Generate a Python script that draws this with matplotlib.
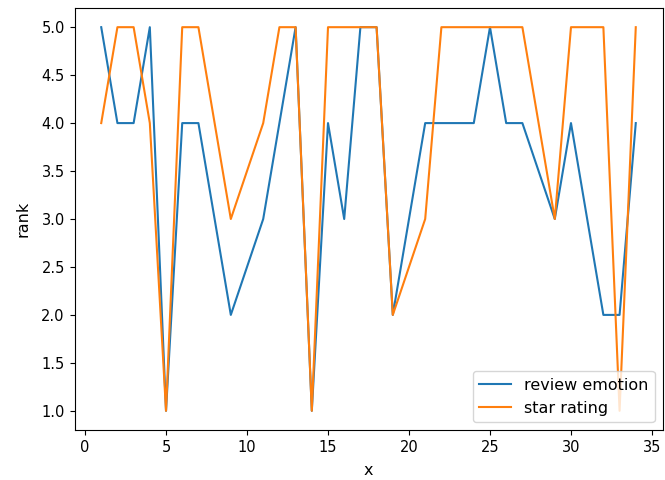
import matplotlib
matplotlib.use("Agg")
import matplotlib.pyplot as plt

# data
x = list(range(1, 35))
review_emotion = [5, 4, 4, 5, 1, 4, 4, 3, 2, 2.5, 3, 4, 5, 1, 4, 3, 5, 5, 2, 3,
                  4, 4, 4, 4, 5, 4, 4, 3.5, 3, 4, 3, 2, 2, 4]
star_rating = [4, 5, 5, 4, 1, 5, 5, 4, 3, 3.5, 4, 5, 5, 1, 5, 5, 5, 5, 2, 2.5,
               3, 5, 5, 5, 5, 5, 5, 4, 3, 5, 5, 5, 1, 5]

fig = plt.figure(figsize=(6.65, 4.8), dpi=100)
ax = fig.add_axes([74.5 / 665, 50 / 480, 588 / 665, 422 / 480])

ax.plot(x, review_emotion, label="review emotion")
ax.plot(x, star_rating, label="star rating")
ax.tick_params(labelsize=10.5)
ax.set_xlabel("x", fontsize=11.5, labelpad=6)
ax.set_ylabel("rank", fontsize=11.5, labelpad=8)
ax.legend(loc="lower right", fontsize=11.5)

fig.savefig("out.png", dpi=100)
